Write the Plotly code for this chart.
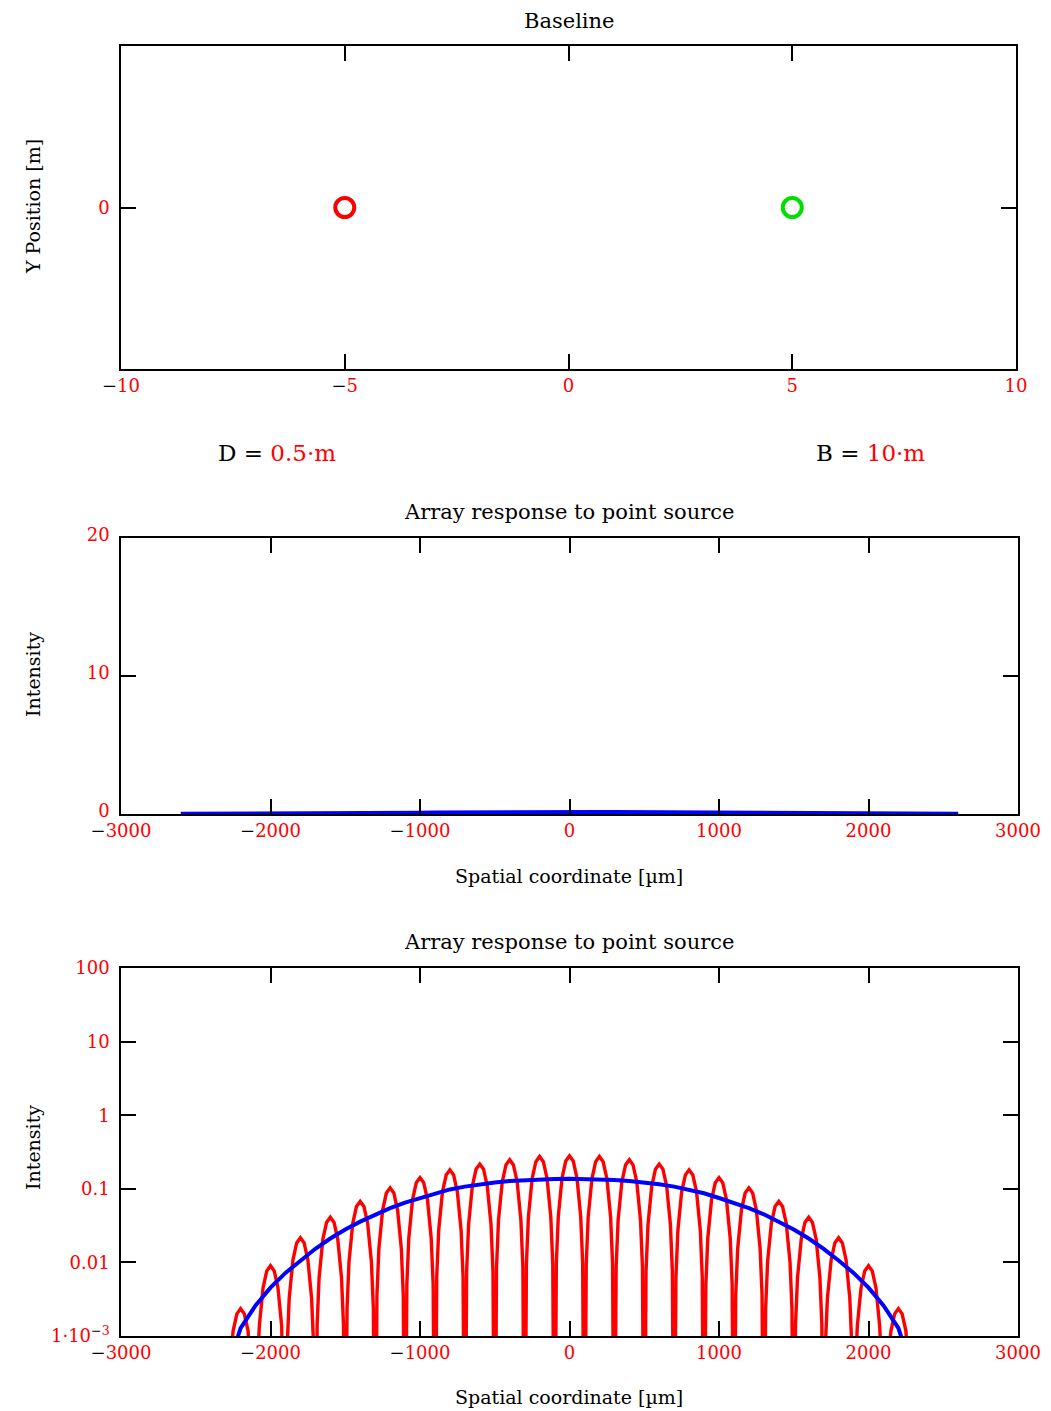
import plotly.graph_objects as go

# ---------------- data ----------------
# Top panel: aperture positions (baseline)
aperture_x = [-5, 5]
aperture_y = [0, 0]
aperture_colors = ["#ff0000", "#00e000"]

# Envelope (single-aperture response), spatial coordinate in µm
env_x = [-2600, -2400, -2300, -2200, -2100, -2000, -1900, -1800, -1700, -1600, -1500,
         -1400, -1300, -1200, -1100, -1000, -900, -800, -700, -600, -500, -400, -300,
         -200, -100, 0, 100, 200, 300, 400, 500, 600, 700, 800, 900, 1000, 1100, 1200,
         1300, 1400, 1500, 1600, 1700, 1800, 1900, 2000, 2100, 2200, 2300, 2400, 2600]
env_y = [0.0002, 0.0001, 0.0003, 0.00128, 0.0026, 0.00454, 0.0072, 0.0106, 0.0153, 0.0211,
         0.028, 0.0358, 0.045, 0.0547, 0.065, 0.075, 0.087, 0.098, 0.107, 0.115, 0.122,
         0.128, 0.132, 0.135, 0.136, 0.137, 0.136, 0.135, 0.132, 0.128, 0.122, 0.115,
         0.107, 0.098, 0.087, 0.075, 0.065, 0.0547, 0.045, 0.0358, 0.028, 0.0211, 0.0153,
         0.0106, 0.0072, 0.00454, 0.0026, 0.00128, 0.0003, 0.0001, 0.0002]

# Interference fringes: peak positions and peak heights
fringe_x = [-2200, -2000, -1800, -1600, -1400, -1200, -1000, -800, -600, -400, -200, 0,
            200, 400, 600, 800, 1000, 1200, 1400, 1600, 1800, 2000, 2200]
fringe_peak = [0.00235, 0.0090, 0.0216, 0.0411, 0.0676, 0.103, 0.142, 0.181, 0.217, 0.248,
               0.275, 0.28, 0.275, 0.248, 0.217, 0.181, 0.142, 0.103, 0.0676, 0.0411,
               0.0216, 0.0090, 0.00235]
# Fringe profile (offset from a peak in µm, level relative to the peak)
profile_offset = [25, 50, 75, 88]
profile_level = [0.85, 0.5, 0.15, 0.035]
trough_level = 1e-6

x_ticks_top = [-10, -5, 0, 5, 10]
x_ticks_spatial = [-3000, -2000, -1000, 0, 1000, 2000, 3000]
y_ticks_lin = [0, 10, 20]
y_ticks_log = [0.001, 0.01, 0.1, 1, 10, 100]

# ---------------- build the fringe trace table ----------------
red_x, red_y = [], []
red_x.append(fringe_x[0] - 100); red_y.append(trough_level)
for off, lev in reversed(list(zip(profile_offset, profile_level))):
    red_x.append(fringe_x[0] - off); red_y.append(fringe_peak[0] * lev)
for i in range(len(fringe_x)):
    red_x.append(fringe_x[i]); red_y.append(fringe_peak[i])
    if i + 1 < len(fringe_x):
        for off, lev in zip(profile_offset, profile_level):
            red_x.append(fringe_x[i] + off); red_y.append(fringe_peak[i] * lev)
        red_x.append((fringe_x[i] + fringe_x[i + 1]) / 2); red_y.append(trough_level)
        for off, lev in reversed(list(zip(profile_offset, profile_level))):
            red_x.append(fringe_x[i + 1] - off); red_y.append(fringe_peak[i + 1] * lev)
for off, lev in zip(profile_offset, profile_level):
    red_x.append(fringe_x[-1] + off); red_y.append(fringe_peak[-1] * lev)
red_x.append(fringe_x[-1] + 100); red_y.append(trough_level)

# ---------------- figure ----------------
W, H = 1051, 1411
FONT = "DejaVu Serif"
RED = "#ff0000"
MINUS = '<span style="color:black">\u2212</span>'


def px(x):
    return x / W


def py(y):
    return 1 - y / H


def num_label(v):
    s = f"{abs(v):g}"
    return (MINUS + s) if v < 0 else s


fig = go.Figure()

for xv, yv, col in zip(aperture_x, aperture_y, aperture_colors):
    fig.add_trace(go.Scatter(x=[xv], y=[yv], mode="markers", xaxis="x", yaxis="y",
                             marker=dict(symbol="circle-open", size=19, color=col,
                                         line=dict(width=4, color=col)),
                             showlegend=False))

fig.add_trace(go.Scatter(x=env_x, y=env_y, mode="lines", xaxis="x2", yaxis="y2",
                         line=dict(color="#0000ff", width=4.5), showlegend=False))

fig.add_trace(go.Scatter(x=red_x, y=red_y, mode="lines", xaxis="x3", yaxis="y3",
                         line=dict(color=RED, width=3.4), showlegend=False))
fig.add_trace(go.Scatter(x=env_x, y=env_y, mode="lines", xaxis="x3", yaxis="y3",
                         line=dict(color="#0000ff", width=4), showlegend=False))

axis_common = dict(showline=True, linecolor="black", linewidth=1.5, mirror="ticks",
                   ticks="inside", ticklen=15, tickwidth=1.5, tickcolor="black",
                   showgrid=False, zeroline=False, automargin=False,
                   tickfont=dict(family=FONT, size=18, color=RED))

fig.update_layout(
    width=W, height=H, autosize=False,
    margin=dict(l=0, r=0, t=0, b=0, pad=0, autoexpand=False),
    paper_bgcolor="white", plot_bgcolor="white",
    xaxis=dict(axis_common, domain=[px(121), px(1016)], range=[-10, 10], anchor="y",
               tickmode="array", tickvals=x_ticks_top,
               ticktext=[num_label(v) for v in x_ticks_top]),
    yaxis=dict(axis_common, domain=[py(369), py(46)], range=[-1, 1], anchor="x",
               tickmode="array", tickvals=[0], ticktext=["0"], ticklabelstandoff=6),
    xaxis2=dict(axis_common, domain=[px(121), px(1018)], range=[-3000, 3000], anchor="y2",
                tickmode="array", tickvals=x_ticks_spatial,
                ticktext=[num_label(v) for v in x_ticks_spatial]),
    yaxis2=dict(axis_common, domain=[py(814), py(538)], range=[0, 20], anchor="x2",
                tickmode="array", tickvals=y_ticks_lin,
                ticktext=[str(v) for v in y_ticks_lin], ticklabelstandoff=6,
                ticklabelshift=-3),
    xaxis3=dict(axis_common, domain=[px(121), px(1018)], range=[-3000, 3000], anchor="y3",
                tickmode="array", tickvals=x_ticks_spatial,
                ticktext=[num_label(v) for v in x_ticks_spatial]),
    yaxis3=dict(axis_common, domain=[py(1336), py(968)], type="log", range=[-3, 2],
                anchor="x3", tickmode="array", tickvals=y_ticks_log,
                ticktext=["1\u00b710<sup>" + MINUS + "3</sup>", "0.01", "0.1", "1", "10", "100"],
                ticklabelstandoff=6),
)

ann = []


def text(x, y, s, size=20, angle=0, color="black"):
    ann.append(dict(x=px(x), y=py(y), xref="paper", yref="paper", text=s, showarrow=False,
                    textangle=angle, xanchor="center", yanchor="middle",
                    font=dict(family=FONT, size=size, color=color)))


text(569, 21, "Baseline", 21)
text(33, 207, "Y Position [m]", 19, -90)
text(277, 453, '<span style="color:black">D = </span>0.5\u00b7m', 23, 0, RED)
text(870, 453, '<span style="color:black">B = </span>10\u00b7m', 23, 0, RED)
text(569, 512, "Array response to point source", 21)
text(33, 675, "Intensity", 19, -90)
text(569, 876, "Spatial coordinate [\u00b5m]", 19)
text(569, 942, "Array response to point source", 21)
text(33, 1148, "Intensity", 19, -90)
text(569, 1397, "Spatial coordinate [\u00b5m]", 19)

fig.update_layout(annotations=ann)

fig.write_html(
    "out.html",
    config={"displayModeBar": False},
    post_script="document.body.style.margin='0';document.body.style.overflow='hidden';",
)
